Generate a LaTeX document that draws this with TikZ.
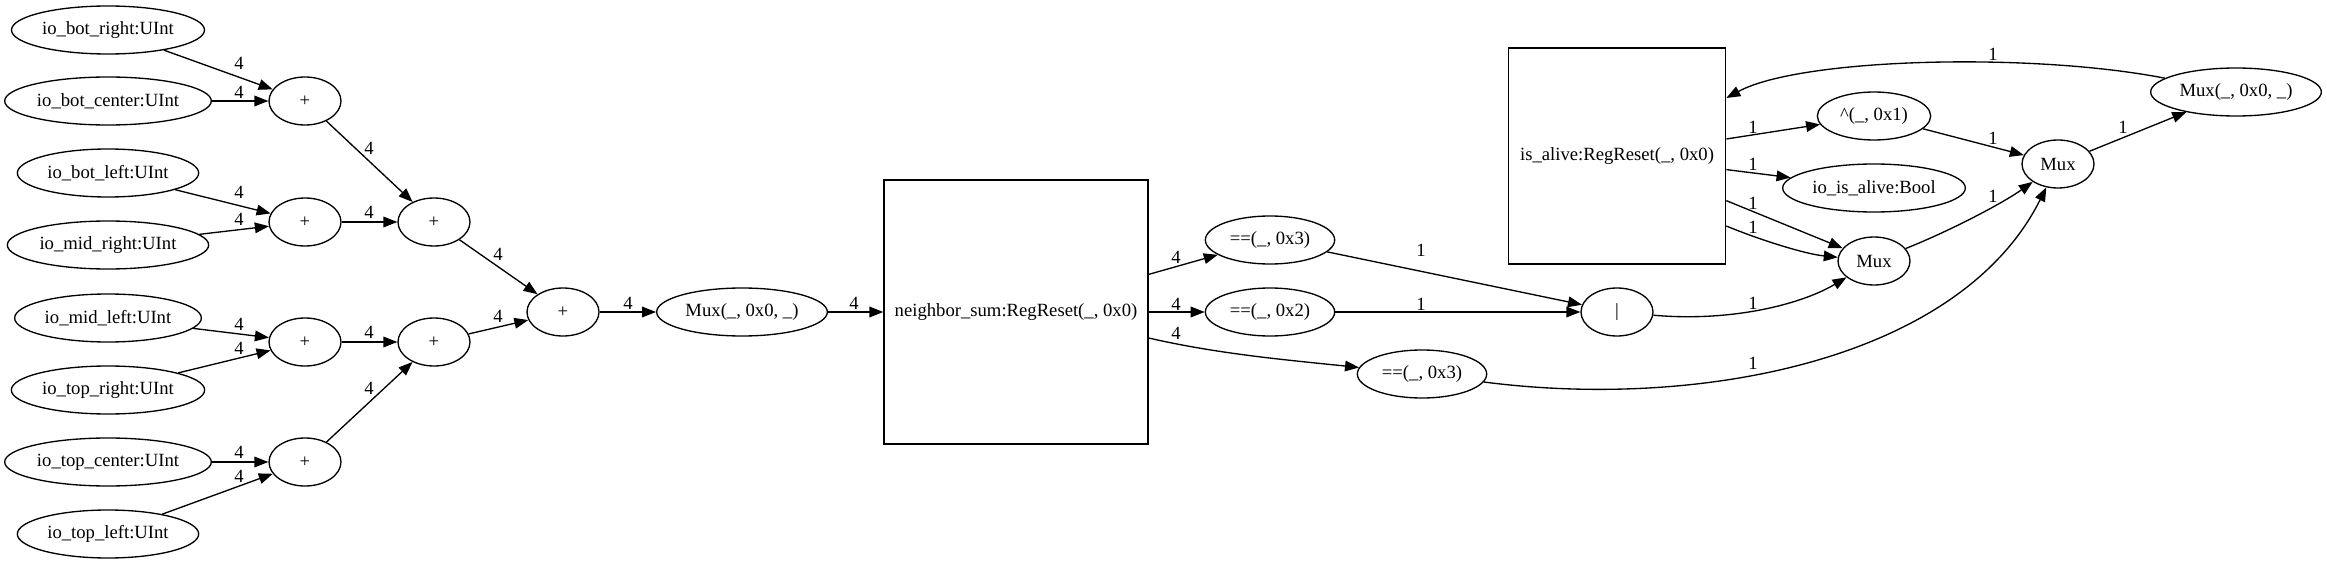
\documentclass[tikz,border=0pt]{standalone}
\usepackage{fontspec}
\setmainfont{Liberation Serif}
\usetikzlibrary{shapes.geometric,arrows.meta,calc}
\begin{document}
\begin{tikzpicture}[x=0.75pt,y=-0.75pt,
  every node/.style={font=\fontsize{14}{16}\selectfont},
  ell/.style={draw,ellipse,line width=1pt,inner sep=0pt,minimum height=36pt},
  box/.style={draw,rectangle,line width=1pt,inner sep=0pt},
  arr/.style={line width=1pt,-{Triangle[length=10.5pt,width=8pt]}},
  lbl/.style={inner sep=0pt}]
\fill[white] (0,0) rectangle (2327,563);
\useasboundingbox (0,0) rectangle (2327,563);
% inputs
\node[ell,minimum width=144.75pt] (ibr) at (108,30) {io\_bot\_right:UInt};
\node[ell,minimum width=155pt] (ibc) at (108,101) {io\_bot\_center:UInt};
\node[ell,minimum width=136pt] (ibl) at (108,173) {io\_bot\_left:UInt};
\node[ell,minimum width=151pt] (imr) at (108,245) {io\_mid\_right:UInt};
\node[ell,minimum width=140pt] (iml) at (108,318) {io\_mid\_left:UInt};
\node[ell,minimum width=145pt] (itr) at (108,390) {io\_top\_right:UInt};
\node[ell,minimum width=155pt] (itc) at (108,462) {io\_top\_center:UInt};
\node[ell,minimum width=136pt] (itl) at (108,534) {io\_top\_left:UInt};
% adders
\node[ell,minimum width=54pt] (p1) at (305,101) {+};
\node[ell,minimum width=54pt] (p2) at (305,222) {+};
\node[ell,minimum width=54pt] (p3) at (434,222) {+};
\node[ell,minimum width=54pt] (p5) at (305,342) {+};
\node[ell,minimum width=54pt] (p6) at (434,342) {+};
\node[ell,minimum width=54pt] (p7) at (305,462) {+};
\node[ell,minimum width=54pt] (p4) at (563,312) {+};
\node[ell,minimum width=128pt] (m1) at (742,312) {Mux(\_, 0x0, \_)};
\node[box,minimum width=198pt,minimum height=198pt] (ns) at (1016,312) {neighbor\_sum:RegReset(\_, 0x0)};
\node[ell,minimum width=97pt] (e1) at (1270,240) {==(\_, 0x3)};
\node[ell,minimum width=97pt] (e2) at (1270,312) {==(\_, 0x2)};
\node[ell,minimum width=97pt] (e3) at (1422,374) {==(\_, 0x3)};
\node[ell,minimum width=54pt] (or) at (1617,312) {|};
\node[box,minimum width=163pt,minimum height=162pt] (ia) at (1617,156) {is\_alive:RegReset(\_, 0x0)};
\node[ell,minimum width=85pt] (xr) at (1874,116) {\textasciicircum(\_, 0x1)};
\node[ell,minimum width=137pt] (iia) at (1874,188) {io\_is\_alive:Bool};
\node[ell,minimum width=54pt] (mb) at (1874,261) {Mux};
\node[ell,minimum width=54pt] (ma) at (2058,164) {Mux};
\node[ell,minimum width=128pt] (m2) at (2236,92) {Mux(\_, 0x0, \_)};
% edges
\draw[arr] (ibr) -- (p1) node[lbl] at (239,63) {4};
\draw[arr] (ibc) -- (p1) node[lbl] at (239,92) {4};
\draw[arr] (p1) -- (p3) node[lbl] at (369,148) {4};
\draw[arr] (ibl) -- (p2) node[lbl] at (239,192) {4};
\draw[arr] (imr) -- (p2) node[lbl] at (239,219) {4};
\draw[arr] (p2) -- (p3) node[lbl] at (369,212) {4};
\draw[arr] (iml) -- (p5) node[lbl] at (239,324) {4};
\draw[arr] (itr) -- (p5) node[lbl] at (239,348) {4};
\draw[arr] (p5) -- (p6) node[lbl] at (369,332) {4};
\draw[arr] (itc) -- (p7) node[lbl] at (239,452) {4};
\draw[arr] (itl) -- (p7) node[lbl] at (239,476) {4};
\draw[arr] (p7) -- (p6) node[lbl] at (369,388) {4};
\draw[arr] (p3) -- (p4) node[lbl] at (498,254) {4};
\draw[arr] (p6) -- (p4) node[lbl] at (498,316) {4};
\draw[arr] (p4) -- (m1) node[lbl] at (628,303) {4};
\draw[arr] (m1) -- (ns) node[lbl] at (854,303) {4};
\draw[arr] (ns) -- (e1) node[lbl] at (1176,257) {4};
\draw[arr] (ns) -- (e2) node[lbl] at (1176,304) {4};
\draw[arr] ($(ns.east)+(0,26)$) .. controls (1218,354) and (1287,360) .. (e3) node[lbl] at (1176,333) {4};
\draw[arr] (e1) -- (or) node[lbl] at (1421,250) {1};
\draw[arr] (e2) -- (or) node[lbl] at (1421,304) {1};
\draw[arr] (or) .. controls (1730,322) and (1800,305) .. (mb) node[lbl] at (1753,303) {1};
\draw[arr] (e3) .. controls (1700,410) and (1960,360) .. (ma) node[lbl] at (1753,363) {1};
\draw[arr] (ia) -- (xr) node[lbl] at (1753,127) {1};
\draw[arr] (ia) -- (iia) node[lbl] at (1753,164) {1};
\draw[arr] (ia) -- (mb) node[lbl] at (1753,203) {1};
\draw[arr] ($(ia.east)+(0,70)$) .. controls (1760,240) and (1805,254) .. (mb) node[lbl] at (1753,227) {1};
\draw[arr] (xr) -- (ma) node[lbl] at (1993,138) {1};
\draw[arr] (mb) .. controls (1945,233) and (2000,205) .. (ma) node[lbl] at (1993,196) {1};
\draw[arr] (ma) -- (m2) node[lbl] at (2123,127) {1};
\draw[arr] (m2) .. controls (2030,52) and (1800,58) .. ($(ia.east)+(0,-58)$) node[lbl] at (1993,54) {1};
\end{tikzpicture}
\end{document}
